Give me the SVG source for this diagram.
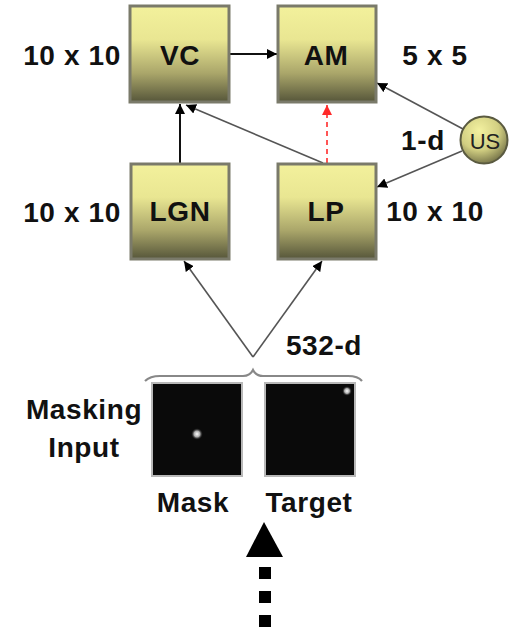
<svg xmlns="http://www.w3.org/2000/svg" width="513" height="627" viewBox="0 0 513 627">
<defs>
<linearGradient id="boxg" x1="0" y1="0" x2="0" y2="1">
<stop offset="0" stop-color="#f3f19c"/>
<stop offset="0.35" stop-color="#e9e692"/>
<stop offset="0.7" stop-color="#aaa66a"/>
<stop offset="1" stop-color="#56563a"/>
</linearGradient>
<radialGradient id="usg" cx="0.4" cy="0.3" r="0.75">
<stop offset="0" stop-color="#f3f1a0"/>
<stop offset="0.55" stop-color="#d2cf82"/>
<stop offset="1" stop-color="#6e6c44"/>
</radialGradient>
<radialGradient id="dot" cx="0.5" cy="0.5" r="0.5">
<stop offset="0" stop-color="#ffffff"/>
<stop offset="0.5" stop-color="#aaaaaa"/>
<stop offset="1" stop-color="#111111" stop-opacity="0"/>
</radialGradient>
<marker id="ah" markerUnits="userSpaceOnUse" markerWidth="10" markerHeight="10" refX="10" refY="5" orient="auto" viewBox="0 0 10 10">
<path d="M0,0 L10,5 L0,10 z" fill="#000"/>
</marker>
<marker id="ahr" markerUnits="userSpaceOnUse" markerWidth="10" markerHeight="10" refX="10" refY="5" orient="auto" viewBox="0 0 10 10">
<path d="M0,0 L10,5 L0,10 z" fill="#ff2a2a"/>
</marker>
</defs>
<style>
.box{fill:url(#boxg);stroke:#7a7a6a;stroke-width:3}
.lbl{font-family:"Liberation Sans",Arial,sans-serif;font-weight:bold;font-size:28px;fill:#111;letter-spacing:0.6px}
.c{text-anchor:middle}
.ln{stroke:#555;stroke-width:1.6;fill:none;marker-end:url(#ah)}
.blk{stroke:#111;stroke-width:2;fill:none;marker-end:url(#ah)}
.img{fill:#0a0a0a;stroke:#b8b8b8;stroke-width:2}
</style>

<g id="connectors">
<line class="blk" x1="230" y1="54" x2="277" y2="54"/>
<line class="blk" x1="180" y1="163" x2="180" y2="104"/>
<line class="ln" x1="323" y1="163" x2="186" y2="105"/>
<line x1="327" y1="163" x2="327" y2="105" stroke="#ff5555" stroke-width="2" stroke-dasharray="5,4" marker-end="url(#ahr)"/>
<line class="ln" x1="463" y1="129" x2="377" y2="83"/>
<line class="ln" x1="462" y1="151" x2="377" y2="187"/>
<line class="ln" x1="253" y1="357" x2="184" y2="261"/>
<line class="ln" x1="253" y1="357" x2="322" y2="261"/>
<path d="M145,381 Q150,376 160,376 L243,376 Q250,376 253,370 Q256,376 263,376 L348,376 Q358,376 362,381" fill="none" stroke="#888" stroke-width="2.2"/>
</g>

<g id="VC">
<rect class="box" x="130" y="6" width="99" height="96"/>
<text class="lbl c" x="180" y="65">VC</text>
</g>
<g id="AM">
<rect class="box" x="278" y="6" width="98" height="96"/>
<text class="lbl c" x="326" y="65">AM</text>
</g>
<g id="LGN">
<rect class="box" x="131" y="164" width="98" height="95"/>
<text class="lbl c" x="180" y="221">LGN</text>
</g>
<g id="LP">
<rect class="box" x="278" y="164" width="98" height="95"/>
<text class="lbl c" x="326" y="221">LP</text>
</g>
<g id="US">
<circle cx="484" cy="140" r="23.5" fill="url(#usg)" stroke="#5a5a40" stroke-width="2"/>
<text x="485" y="149" text-anchor="middle" font-family="'Liberation Sans',Arial,sans-serif" font-size="22" fill="#222">US</text>
</g>

<g id="labels">
<text class="lbl c" x="72" y="65">10 x 10</text>
<text class="lbl c" x="435" y="65">5 x 5</text>
<text class="lbl c" x="423" y="150">1-d</text>
<text class="lbl c" x="72" y="222">10 x 10</text>
<text class="lbl c" x="435" y="221">10 x 10</text>
<text class="lbl c" x="324" y="355">532-d</text>
<text class="lbl c" x="84" y="419">Masking</text>
<text class="lbl c" x="84" y="457">Input</text>
<text class="lbl c" x="193" y="512">Mask</text>
<text class="lbl c" x="309" y="512">Target</text>
</g>

<g id="Mask">
<rect class="img" x="152" y="383" width="90" height="93"/>
<circle cx="197" cy="434" r="6" fill="url(#dot)"/>
</g>
<g id="Target">
<rect class="img" x="265" y="383" width="90" height="93"/>
<circle cx="347" cy="391" r="5" fill="url(#dot)"/>
</g>

<g id="input-arrow">
<path d="M264,522 L283,557 L246,557 z" fill="#000"/>
<rect x="259" y="567" width="12" height="12" fill="#000"/>
<rect x="259" y="591" width="12" height="12" fill="#000"/>
<rect x="259" y="615" width="12" height="12" fill="#000"/>
</g>
</svg>
